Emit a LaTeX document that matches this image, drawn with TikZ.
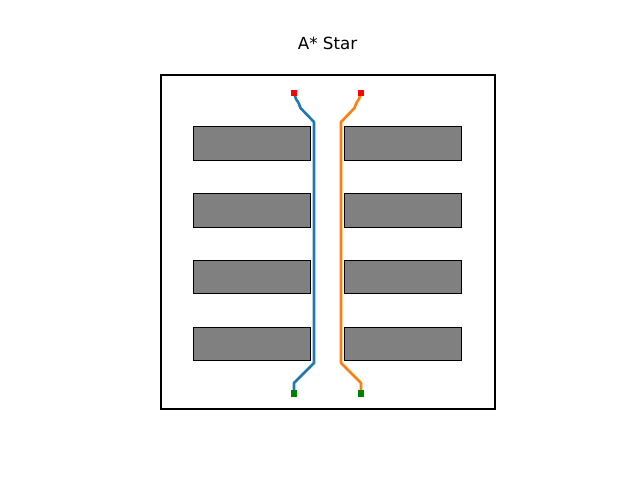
\documentclass[tikz,border=0pt]{standalone}
\usepackage{fontspec}
\setmainfont{DejaVu Sans}
\definecolor{mblue}{HTML}{1F77B4}
\definecolor{morange}{HTML}{FF7F0E}
\definecolor{mgray}{HTML}{808080}
\definecolor{mgreen}{HTML}{008000}
\begin{document}
\begin{tikzpicture}[x=1pt,y=-1pt,
  obst/.style={draw=black,fill=mgray,line width=1pt},
  route/.style={line width=2.6pt,line join=round,line cap=round},
  startmk/.style={fill=red,inner sep=0pt,minimum size=6.5pt,draw=none},
  goalmk/.style={fill=mgreen,inner sep=0pt,minimum size=6.5pt,draw=none}]
\useasboundingbox (0,0) rectangle (640,480);
\node[font=\fontsize{16.7}{20}\selectfont] (title) at (327.5,43) {A* Star};
\draw[line width=2.6pt] (161,75) rectangle (495,409);
\foreach \y/\h in {126/160,193/227,260/293,327/360}{
  \draw[obst] (193,\y) rectangle (310,\h);
  \draw[obst] (344,\y) rectangle (461,\h);
}
\draw[route,mblue] (294,93) -- (296,99) -- (298,102) -- (299,104) -- (300.5,108) -- (314,122) -- (314,363) -- (294,383) -- (294,393);
\draw[route,morange] (361,93) -- (359,99) -- (357,102) -- (356,104) -- (354.5,108) -- (341,122) -- (341,363) -- (361,383) -- (361,393);
\node[startmk] (s1) at (294,93) {};
\node[startmk] (s2) at (361,93) {};
\node[goalmk] (g1) at (294,393.5) {};
\node[goalmk] (g2) at (361,393.5) {};
\end{tikzpicture}
\end{document}
